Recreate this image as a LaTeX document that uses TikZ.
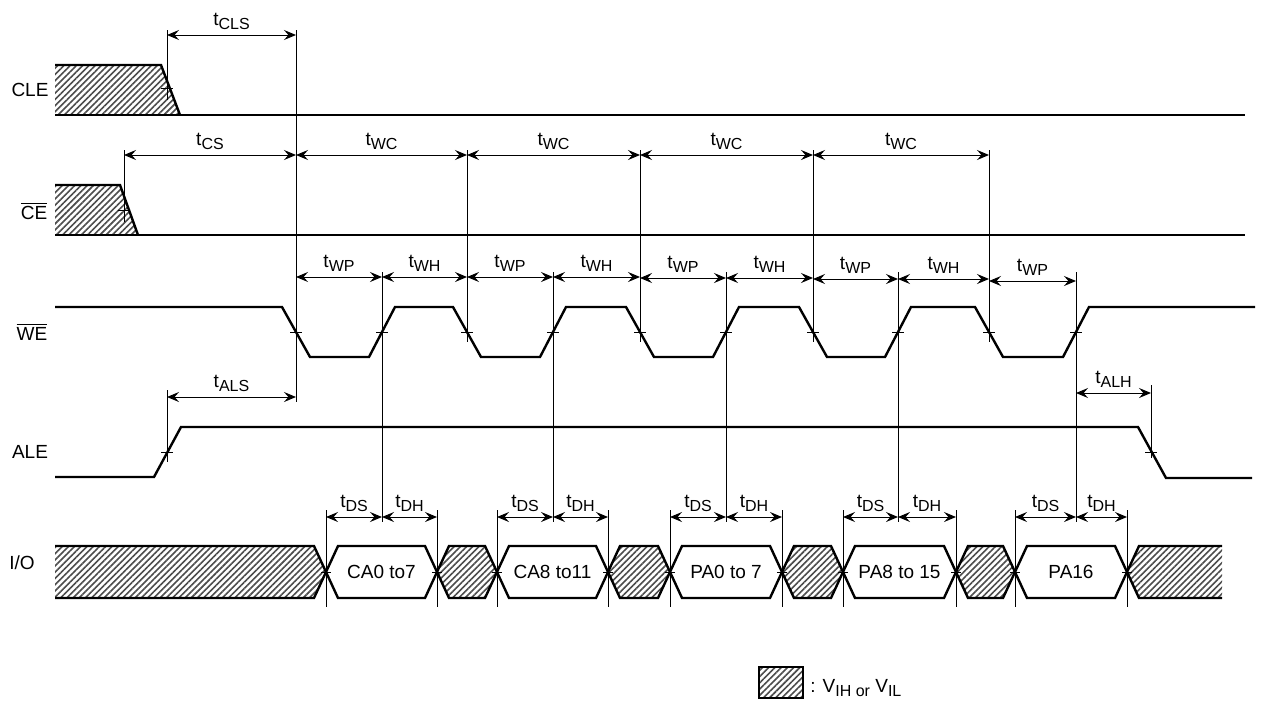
\documentclass[tikz,border=0pt]{standalone}
\usepackage{fontspec}
\setmainfont{Liberation Sans}
\usetikzlibrary{arrows.meta,patterns.meta}
\newcommand{\lo}[1]{\raisebox{-0.45ex}{\fontsize{8}{9}\selectfont#1}}
\tikzset{
  sig/.style={line width=1.2pt},
  guide/.style={line width=0.45pt},
  dimarrow/.style={line width=0.5pt,{Stealth[length=6pt,width=5pt,inset=2.2pt]}-{Stealth[length=6pt,width=5pt,inset=2.2pt]}},
  hatch/.style={pattern={Lines[angle=45,distance=2.2pt,line width=0.8pt]},pattern color=black!70},
  lbl/.style={font=\fontsize{9.5}{11}\selectfont,inner sep=0pt},
  tlabel/.style={lbl,midway,anchor=base,yshift=5pt},
}
\begin{document}
\begin{tikzpicture}[x=0.5pt,y=-0.5pt]
        \useasboundingbox (0,0) rectangle (1262,702);
        % signal names
        \node[lbl] (cle) at (30,90) {CLE};
        \node[lbl] (ce) at (34,211) {$\overline{\mbox{CE}}$};
        \node[lbl] (we) at (32,332) {$\overline{\mbox{WE}}$};
        \node[lbl] (ale) at (30,452) {ALE};
        \node[lbl] (io) at (22,563) {I/O};
        % CLE and CE
        \path[hatch](55,65)--(161,65)--(180,115)--(55,115)--cycle;
        \draw[sig](55,65)--(161,65)--(180,115);
        \draw[sig](55,115)--(1245,115);
        \path[hatch](55,185)--(120,185)--(138,235)--(55,235)--cycle;
        \draw[sig](55,185)--(120,185)--(138,235);
        \draw[sig](55,235)--(1245,235);
        % WE
        \draw[sig](55,307) foreach \f/\r in {296/382,467/553,640/726,813/898,989/1076}{
            --(\f-14,307)--(\f+14,357)--(\r-13,357)--(\r+13,307)}--(1255,307);
        % ALE
        \draw[sig](55,477)--(154,477)--(181,427)--(1138,427)--(1166,478)--(1252,478);
        % I/O bus
        \path[hatch](55,546)--(314,546)--(326,572)--(314,598)--(55,598)--cycle;
        \draw[sig](55,546)--(314,546)--(326,572)--(314,598)--(55,598);
        \foreach \a/\b in {437/497,608/670,782/843,956/1015}{
            \draw[sig,hatch](\a,572)--(\a+12,546)--(\b-12,546)--(\b,572)--(\b-12,598)--(\a+12,598)--cycle;
        }
        \foreach \a/\b/\n/\t in {326/437/ca0/CA0 to7,497/608/ca8/CA8 to11,670/782/pa0/PA0 to 7,843/956/pa8/PA8 to 15,1015/1127/pa16/PA16}{
            \draw[sig](\a,572)--(\a+12,546)--(\b-12,546)--(\b,572)--(\b-12,598)--(\a+12,598)--cycle;
            \node[lbl] (\n) at ({(\a+\b)/2},572) {\t};
        }
        \path[hatch](1127,572)--(1139,546)--(1222,546)--(1222,598)--(1139,598)--cycle;
        \draw[sig](1222,546)--(1139,546)--(1127,572)--(1139,598)--(1222,598);
        % reference lines
        \draw[guide](167,30)--(167,100);
        \draw[guide](124,150)--(124,222);
        \draw[guide](296,30)--(296,402);
        \foreach \x in {467,640,813,989} \draw[guide](\x,150)--(\x,342);
        \foreach \x in {382,553,726,898,1076} \draw[guide](\x,272)--(\x,522);
        \draw[guide](167,390)--(167,462);
        \draw[guide](1151,385)--(1151,458);
        \foreach \x in {326,437,497,608,670,782,843,956,1015,1127} \draw[guide](\x,510)--(\x,607);
        % crossing marks
        \foreach \x/\y in {167/88,124/210,296/332,382/332,467/332,553/332,640/332,726/332,813/332,898/332,989/332,1076/332,167/452,1151/452}
            \draw[guide](\x-6,\y)--(\x+6,\y);
        \foreach \x in {326,437,497,608,670,782,843,956,1015,1127} \draw[guide](\x-5,572)--(\x+5,572);
        % timing arrows
        \foreach \a/\b/\y/\s in {167/296/35/CLS,124/296/155/CS,
            296/467/155/WC,467/640/155/WC,640/813/155/WC,813/989/155/WC,
            296/382/277/WP,382/467/277/WH,467/553/277/WP,553/640/277/WH,640/726/278/WP,
            726/813/278/WH,813/898/279/WP,898/989/279/WH,989/1076/281/WP,
            167/296/397/ALS,1076/1151/393/ALH,
            326/382/517/DS,382/437/517/DH,497/553/517/DS,553/608/517/DH,670/726/517/DS,
            726/782/517/DH,843/898/517/DS,898/956/517/DH,1015/1076/517/DS,1076/1127/517/DH}{
            \draw[dimarrow](\a,\y)--node[tlabel]{t\lo{\s}}(\b,\y);
        }
        % legend
        \draw[hatch,line width=1pt](759,667) rectangle (803,698);
        \node[lbl,anchor=base west] (leg) at (810,692) {: V\lo{IH or} V\lo{IL}};
\end{tikzpicture}
\end{document}
